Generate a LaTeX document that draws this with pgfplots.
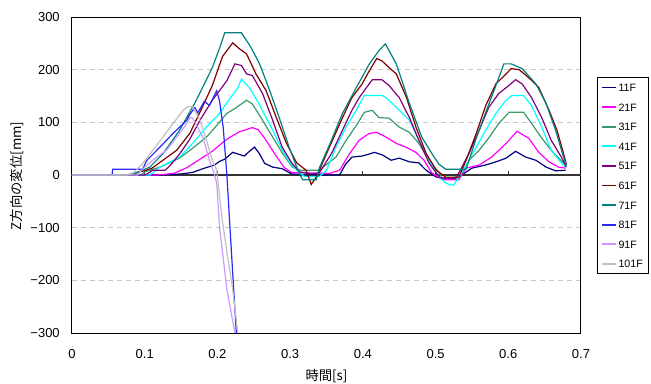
\documentclass[border=0pt]{standalone}
\usepackage{pgfplots}
\pgfplotsset{compat=1.18}
\usepackage{fontspec}
\setmainfont{Liberation Sans}
\newfontfamily\jp{Noto Sans CJK JP}
\definecolor{c11}{RGB}{0,0,128}
\definecolor{c21}{RGB}{255,0,255}
\definecolor{c31}{RGB}{58,154,106}
\definecolor{c41}{RGB}{0,255,255}
\definecolor{c51}{RGB}{128,0,128}
\definecolor{c61}{RGB}{128,0,0}
\definecolor{c71}{RGB}{0,128,128}
\definecolor{c81}{RGB}{40,40,255}
\definecolor{c91}{RGB}{204,153,255}
\definecolor{c101}{RGB}{192,192,192}
\begin{document}
\begin{tikzpicture}
\path[use as bounding box] (-54pt,-37.5pt) rectangle (434.25pt,249.75pt);
\begin{axis}[
  scale only axis, width=381.75pt, height=237pt,
  at={(0,0)}, anchor=south west,
  xmin=0, xmax=0.7, ymin=-300, ymax=300,
  xtick={0,0.1,0.2,0.3,0.4,0.5,0.6,0.7},
  xticklabels={0,0.1,0.2,0.3,0.4,0.5,0.6,0.7},
  ytick={-300,-200,-100,0,100,200,300},
  yticklabels={−300,−200,−100,0,100,200,300},
  major tick length=0pt,
  ymajorgrids,
  grid style={dash pattern=on 3.75pt off 3pt, color=black!22, line width=0.75pt},
  axis line style={black, line width=0.75pt},
  tick label style={font=\fontsize{9.75}{11}\selectfont},
  yticklabel style={inner sep=0pt, xshift=-9pt},
  xticklabel style={inner sep=0pt, anchor=north, yshift=-12pt},
  xlabel={\jp 時間[s]},
  ylabel={\jp Z方向の変位[mm]},
  label style={font=\fontsize{10}{12}\selectfont},
  xlabel style={at={(axis description cs:0.5,-0.136)}, anchor=center},
  ylabel style={at={(axis description cs:-0.108,0.497)}, anchor=center},
  legend cell align=left,
  legend image code/.code={\draw[#1, line width=1.3pt] (0pt,0pt) -- (10pt,0pt);},
  legend style={at={(1.0314,0.8101)}, anchor=north west, draw=black, line width=0.75pt,
    fill=white, font=\fontsize{8}{9}\selectfont, inner xsep=3pt, inner ysep=3pt,
    row sep=5.7pt, nodes={inner sep=1.5pt, text height=6pt, text depth=0pt}},
  every axis plot/.append style={line width=0.9pt},
]
\addplot[black!80, forget plot] coordinates {(0,0)(0.7,0)};
\addplot[black!80, ycomb, forget plot] coordinates {(0.1,7.5)(0.2,7.5)(0.3,7.5)(0.4,7.5)(0.5,7.5)(0.6,7.5)};

\addplot[c11] coordinates {(0,0)(0.12,0)(0.15,2)(0.166,5)(0.18,12)(0.196,19)(0.203,26)(0.21,30)(0.221,43)(0.228,40)(0.237,36)(0.244,45)(0.251,53)(0.258,40)(0.265,22)(0.276,15)(0.289,12)(0.302,2)(0.32,1)(0.345,0)(0.368,0)(0.376,20)(0.385,34)(0.399,36)(0.409,40)(0.416,43)(0.427,38)(0.439,28)(0.45,32)(0.464,25)(0.477,23)(0.487,9)(0.501,-4)(0.514,-6)(0.532,-4)(0.536,0)(0.55,13)(0.569,19)(0.583,25)(0.597,32)(0.61,45)(0.624,34)(0.638,28)(0.652,15)(0.665,8)(0.679,9)};
\addlegendentry{11F}
\addplot[c21] coordinates {(0,0)(0.117,0)(0.14,3)(0.158,14)(0.176,30)(0.193,45)(0.213,68)(0.23,82)(0.248,90)(0.256,86)(0.265,70)(0.278,42)(0.292,14)(0.302,5)(0.313,4)(0.33,4)(0.354,3)(0.368,9)(0.382,41)(0.395,66)(0.409,79)(0.419,81)(0.432,72)(0.446,60)(0.459,53)(0.473,43)(0.484,28)(0.495,4)(0.509,-9)(0.532,-9)(0.542,13)(0.56,19)(0.577,34)(0.597,60)(0.612,83)(0.628,70)(0.642,43)(0.656,25)(0.669,15)(0.679,13)};
\addlegendentry{21F}
\addplot[c31] coordinates {(0,0)(0.095,0)(0.1,6)(0.121,15)(0.148,32)(0.166,51)(0.185,72)(0.199,94)(0.213,117)(0.226,128)(0.24,142)(0.248,135)(0.262,104)(0.276,72)(0.289,42)(0.303,15)(0.315,9)(0.34,9)(0.35,20)(0.363,34)(0.377,66)(0.391,94)(0.402,119)(0.413,123)(0.422,109)(0.436,108)(0.45,91)(0.464,81)(0.477,60)(0.491,28)(0.505,4)(0.509,-6)(0.532,-6)(0.546,28)(0.56,47)(0.573,70)(0.587,98)(0.601,119)(0.621,119)(0.632,98)(0.646,70)(0.659,47)(0.679,19)};
\addlegendentry{31F}
\addplot[c41] coordinates {(0,0)(0.107,0)(0.121,15)(0.148,34)(0.166,60)(0.185,91)(0.203,117)(0.217,145)(0.228,165)(0.233,182)(0.244,166)(0.258,133)(0.276,85)(0.29,45)(0.3,23)(0.309,9)(0.32,-3)(0.34,-3)(0.35,9)(0.363,53)(0.377,91)(0.391,123)(0.402,151)(0.427,151)(0.436,142)(0.45,123)(0.464,104)(0.477,66)(0.491,28)(0.505,-4)(0.514,-15)(0.52,-19)(0.525,-19)(0.532,-4)(0.542,19)(0.556,53)(0.569,85)(0.583,117)(0.597,142)(0.605,151)(0.621,151)(0.632,132)(0.646,91)(0.659,47)(0.673,23)(0.679,15)};
\addlegendentry{41F}
\addplot[c51] coordinates {(0,0)(0.1,0)(0.107,5)(0.11,9)(0.128,9)(0.135,18)(0.148,40)(0.162,68)(0.176,104)(0.193,142)(0.213,179)(0.224,211)(0.233,208)(0.24,192)(0.248,189)(0.262,155)(0.276,104)(0.289,53)(0.302,23)(0.313,6)(0.33,2)(0.34,4)(0.357,41)(0.372,85)(0.385,123)(0.395,147)(0.405,166)(0.413,181)(0.426,181)(0.436,170)(0.45,147)(0.464,109)(0.477,66)(0.491,23)(0.505,-4)(0.509,-6)(0.527,-6)(0.532,4)(0.546,41)(0.56,85)(0.573,128)(0.587,155)(0.601,170)(0.61,181)(0.619,173)(0.632,147)(0.646,109)(0.659,66)(0.673,34)(0.68,15)};
\addlegendentry{51F}
\addplot[c61] coordinates {(0,0)(0.085,0)(0.089,5)(0.1,8)(0.11,13)(0.125,28)(0.144,47)(0.162,79)(0.178,125)(0.193,170)(0.207,225)(0.221,251)(0.23,240)(0.24,230)(0.253,192)(0.267,160)(0.281,109)(0.295,60)(0.309,23)(0.322,9)(0.329,-18)(0.336,-4)(0.354,53)(0.372,109)(0.385,147)(0.399,173)(0.409,198)(0.419,221)(0.426,217)(0.436,204)(0.446,192)(0.46,147)(0.473,91)(0.487,41)(0.501,9)(0.514,-4)(0.532,-4)(0.542,28)(0.556,79)(0.569,132)(0.583,173)(0.597,192)(0.604,202)(0.615,200)(0.628,185)(0.642,166)(0.656,123)(0.667,85)(0.676,41)(0.68,19)};
\addlegendentry{61F}
\addplot[c71] coordinates {(0,0)(0.08,0)(0.089,4)(0.107,15)(0.125,40)(0.148,85)(0.171,142)(0.193,204)(0.203,241)(0.21,270)(0.233,270)(0.245,245)(0.258,211)(0.272,160)(0.285,109)(0.298,55)(0.309,15)(0.317,-9)(0.336,-9)(0.34,13)(0.355,60)(0.372,117)(0.391,166)(0.409,211)(0.422,236)(0.431,249)(0.446,211)(0.464,136)(0.481,72)(0.498,34)(0.505,20)(0.514,11)(0.542,11)(0.556,70)(0.569,119)(0.583,170)(0.594,211)(0.604,211)(0.619,202)(0.638,173)(0.652,136)(0.665,85)(0.676,34)(0.68,19)};
\addlegendentry{71F}
\addplot[c81] coordinates {(0,0)(0.055,0)(0.056,11)(0.097,11)(0.103,28)(0.121,53)(0.139,79)(0.158,104)(0.162,115)(0.169,128)(0.173,118)(0.182,140)(0.189,132)(0.199,160)(0.203,140)(0.208,90)(0.213,0)(0.219,-140)(0.226,-300)};
\addlegendentry{81F}
\addplot[c91] coordinates {(0,0)(0.09,0)(0.095,8)(0.1,15)(0.111,28)(0.13,47)(0.144,72)(0.158,98)(0.162,109)(0.166,108)(0.18,72)(0.189,28)(0.195,5)(0.199,-15)(0.203,-100)(0.213,-217)(0.224,-300)};
\addlegendentry{91F}
\addplot[c101] coordinates {(0,0)(0.075,0)(0.085,5)(0.098,23)(0.111,47)(0.125,72)(0.139,98)(0.153,123)(0.159,130)(0.166,130)(0.176,104)(0.185,66)(0.193,28)(0.199,9)(0.206,-79)(0.214,-155)(0.221,-217)(0.228,-300)};
\addlegendentry{101F}
\end{axis}
\end{tikzpicture}
\end{document}
